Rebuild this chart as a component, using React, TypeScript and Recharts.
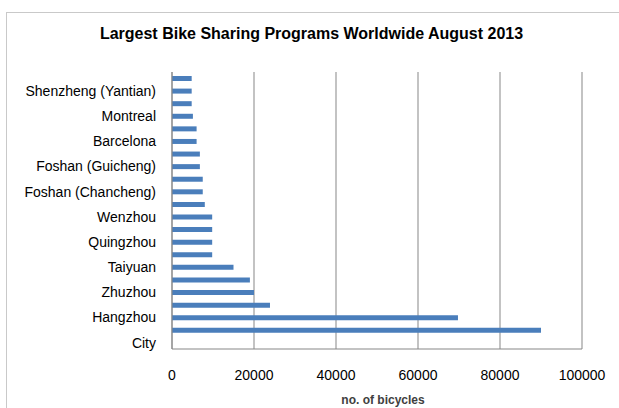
import React from "react";
import { BarChart, Bar, XAxis, YAxis, CartesianGrid, Label } from "recharts";

// bottom to top, as drawn in the reference ("City" is the empty header row)
const cities = [
  "City",
  "Wuhan",
  "Hangzhou",
  "Paris",
  "Zhuzhou",
  "Shanghai (Minhang)",
  "Taiyuan",
  "Beijing",
  "Quingzhou",
  "Foshan (Nanhai)",
  "Wenzhou",
  "London",
  "Foshan (Chancheng)",
  "Guangzhou",
  "Foshan (Guicheng)",
  "Lyon",
  "Barcelona",
  "Mexico City",
  "Montreal",
  "Shenzheng (Luohu)",
  "Shenzheng (Yantian)",
  "Milan",
];
const bicycles = [
  0, 90000, 69750, 23900, 20000, 19000, 15000, 9800, 9800, 9800, 9800, 8000,
  7500, 7500, 6800, 6800, 6000, 6000, 5100, 4800, 4800, 4800,
];
const xTicks = [0, 20000, 40000, 60000, 80000, 100000];

const data = cities.map((city, i) => ({ city, bicycles: bicycles[i] }));

const font = "'Liberation Sans', Arial, sans-serif";

const App: React.FC = () => {
  return (
    <div style={{ position: "relative", width: 619, height: 408, overflow: "hidden", fontFamily: font }}>
      <style>{`body{margin:0}`}</style>
      <div
        style={{
          position: "absolute",
          left: 6,
          top: 12,
          width: 640,
          height: 420,
          border: "1px solid #c9c9c9",
        }}
      />
      <div
        style={{
          position: "absolute",
          left: 0,
          width: 623,
          top: 25,
          textAlign: "center",
          fontSize: 16,
          fontWeight: "bold",
          color: "#000",
        }}
      >
        Largest Bike Sharing Programs Worldwide August 2013
      </div>
      <div style={{ position: "absolute", left: 0, top: 0 }}>
        <BarChart
          width={619}
          height={408}
          data={data}
          layout="vertical"
          margin={{ top: 72, right: 37, bottom: 0, left: 0 }}
        >
          <CartesianGrid horizontal={false} stroke="#878787" strokeWidth={1} />
          <XAxis
            type="number"
            dataKey="bicycles"
            domain={[0, 100000]}
            ticks={xTicks}
            interval={0}
            height={59}
            tickLine={false}
            tickSize={6}
            tickMargin={15}
            axisLine={{ stroke: "#878787" }}
            tick={{ fill: "#000", fontSize: 14, fontFamily: font }}
          >
            <Label
              value="no. of bicycles"
              position="insideBottom"
              offset={4}
              dx={6}
              style={{ fill: "#404040", fontSize: 12, fontWeight: "bold", fontFamily: font }}
            />
          </XAxis>
          <YAxis
            type="category"
            dataKey="city"
            reversed
            interval={1}
            width={172}
            tickLine={false}
            tickSize={6}
            tickMargin={10}
            axisLine={{ stroke: "#878787" }}
            tick={{ fill: "#000", fontSize: 14, fontFamily: font }}
          />
          <Bar dataKey="bicycles" fill="#4a7ebb" barSize={5} isAnimationActive={false} />
        </BarChart>
      </div>
    </div>
  );
};

export default App;
